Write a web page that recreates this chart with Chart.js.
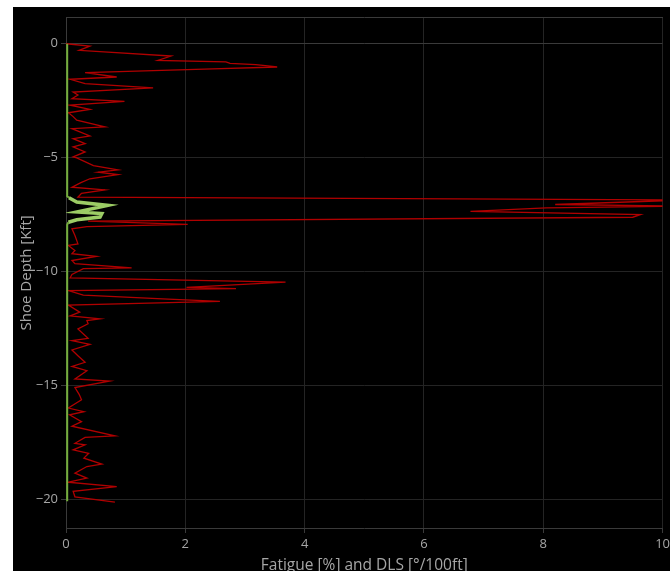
<!DOCTYPE html>
<html>
<head>
<meta charset="utf-8">
<script src="https://cdn.jsdelivr.net/npm/chart.js@4"></script>
<style>
  html, body { margin: 0; padding: 0; background: #fff; overflow: hidden; width: 670px; height: 571px; }
  #frame { position: absolute; left: 13px; top: 7px; width: 660px; height: 580px; background: #000; }
  canvas { display: block; }
</style>
</head>
<body>
<div id="frame"><canvas id="c" width="660" height="580"></canvas></div>
<script>
// Dogleg severity along the well, depth in kft (negative = below surface)
const dlsDepth = [
  0.00, -0.10, -0.29, -0.54, -0.73, -0.80, -0.86, -0.92, -1.02, -1.10,
  -1.27, -1.46, -1.56, -1.75, -1.94, -2.12, -2.25, -2.41, -2.53, -2.70,
  -2.88, -3.03, -3.20, -3.36, -3.65, -3.73, -4.05, -4.17, -4.39, -4.53,
  -4.75, -4.97, -5.01, -5.35, -5.54, -5.64, -5.75, -5.93, -6.10, -6.30,
  -6.42, -6.57, -6.74, -6.81, -6.86, -7.06, -7.13, -7.21, -7.36, -7.50,
  -7.62, -7.79, -7.93, -8.03, -8.13, -8.42, -8.79, -8.86, -9.08, -9.22,
  -9.34, -9.52, -9.66, -9.84, -9.88, -10.13, -10.28, -10.47, -10.70, -10.76,
  -10.84, -11.04, -11.22, -11.32, -11.48, -11.79, -11.95, -12.08, -12.16, -12.30,
  -12.53, -12.94, -13.04, -13.20, -13.45, -13.70, -13.99, -14.17, -14.36, -14.72,
  -14.82, -15.10, -15.40, -15.64, -16.00, -16.16, -16.30, -16.60, -16.80, -17.22,
  -17.29, -17.55, -17.62, -17.84, -17.99, -18.20, -18.46, -18.57, -18.86, -19.08,
  -19.26, -19.45, -19.66, -19.90, -20.13
];
const dlsValue = [
  0.00, 0.40, 0.22, 1.76, 1.54, 2.68, 2.75, 3.18, 3.54, 2.46,
  0.32, 0.85, 0.07, 0.32, 1.46, 0.12, 0.20, 0.10, 0.98, 0.07,
  0.40, 0.04, 0.12, 0.18, 0.65, 0.10, 0.40, 0.12, 0.32, 0.12,
  0.32, 0.12, 0.18, 0.46, 0.87, 0.54, 0.87, 0.40, 0.25, 0.10,
  0.65, 0.26, 0.20, 6.56, 10.40, 8.20, 10.40, 8.05, 6.78, 9.63,
  9.50, 0.37, 2.04, 0.35, 0.10, 0.15, 0.20, 0.04, 0.15, 0.10,
  0.51, 0.10, 0.15, 1.10, 0.29, 0.10, 0.07, 3.68, 2.02, 2.85,
  0.04, 0.29, 1.71, 2.58, 0.04, 0.23, 0.07, 0.57, 0.35, 0.37,
  0.20, 0.37, 0.10, 0.40, 0.10, 0.20, 0.32, 0.10, 0.35, 0.15,
  0.73, 0.15, 0.22, 0.26, 0.04, 0.30, 0.06, 0.26, 0.10, 0.82,
  0.32, 0.15, 0.32, 0.12, 0.38, 0.30, 0.60, 0.35, 0.15, 0.35,
  0.04, 0.85, 0.12, 0.15, 0.82
];

// Cumulative fatigue along the same well
const fatigueDepth = [0.00, -6.70, -6.76, -6.95, -7.10, -7.39, -7.46, -7.61, -7.73, -7.84, -7.95, -20.10];
const fatigueValue = [0.02, 0.02, 0.05, 0.18, 0.70, 0.18, 0.60, 0.57, 0.18, 0.04, 0.02, 0.02];

const xTicks = [0, 2, 4, 6, 8, 10];
const yTicks = [-20, -15, -10, -5, 0];

const toPoints = (depths, values) => depths.map((d, i) => ({ x: values[i], y: d }));
const minus = v => (v < 0 ? '\u2212' + Math.abs(v) : String(v));

const gridDim = '#242424';
const gridLine = '#3a3a3a';
const textGray = '#a6a6a6';
const font = 'Open Sans';

new Chart(document.getElementById('c'), {
  type: 'scatter',
  data: {
    datasets: [
      {
        label: 'Fatigue',
        data: toPoints(fatigueDepth, fatigueValue),
        showLine: true,
        borderColor: '#74ad3c',
        borderWidth: 2,
        pointRadius: 0,
        tension: 0,
        order: 0,
        segment: {
          borderWidth: c => (c.p0.parsed.x > 0.1 || c.p1.parsed.x > 0.1 ? 3.5 : 2),
          borderColor: c => (c.p0.parsed.x > 0.1 || c.p1.parsed.x > 0.1 ? '#9ccc65' : '#74ad3c')
        }
      },
      {
        label: 'DLS',
        data: toPoints(dlsDepth, dlsValue),
        showLine: true,
        borderColor: '#b00000',
        borderWidth: 1.3,
        pointRadius: 0,
        tension: 0,
        order: 1
      }
    ]
  },
  options: {
    responsive: false,
    animation: false,
    devicePixelRatio: 1,
    layout: { autoPadding: false, padding: { left: 0, right: 6, top: 10, bottom: 0 } },
    plugins: { legend: { display: false }, tooltip: { enabled: false } },
    scales: {
      x: {
        type: 'linear',
        position: 'bottom',
        min: 0,
        max: 10,
        afterFit: s => { s.height = 59; },
        afterBuildTicks: s => { s.ticks = xTicks.map(v => ({ value: v })); },
        grid: { color: gridDim, tickColor: gridLine, tickLength: 5 },
        border: { color: gridLine },
        ticks: { color: textGray, font: { family: font, size: 13 }, padding: 3, maxRotation: 0 },
        title: {
          display: true,
          text: 'Fatigue [%] and DLS [°/100ft]',
          color: textGray,
          font: { family: font, size: 15.5 },
          padding: { top: 0, bottom: 12.5 }
        }
      },
      xTop: {
        type: 'linear',
        position: 'top',
        min: 0,
        max: 10,
        afterFit: s => { s.height = 0; },
        ticks: { display: false },
        grid: { display: false, drawTicks: false },
        border: { display: true, color: gridLine }
      },
      y: {
        type: 'linear',
        min: -21.27,
        max: 1.14,
        afterFit: s => { s.width = 53; },
        afterBuildTicks: s => { s.ticks = yTicks.map(v => ({ value: v })); },
        grid: {
          color: c => (c.tick && c.tick.value === 0 ? gridLine : gridDim),
          tickColor: gridLine,
          tickLength: 5
        },
        border: { color: gridLine },
        ticks: { color: textGray, font: { family: font, size: 13 }, padding: 3, callback: minus },
        title: {
          display: true,
          text: 'Shoe Depth [Kft]',
          color: textGray,
          font: { family: font, size: 15 },
          padding: { top: 4.5, bottom: 0 }
        }
      }
    }
  }
});
</script>
</body>
</html>
